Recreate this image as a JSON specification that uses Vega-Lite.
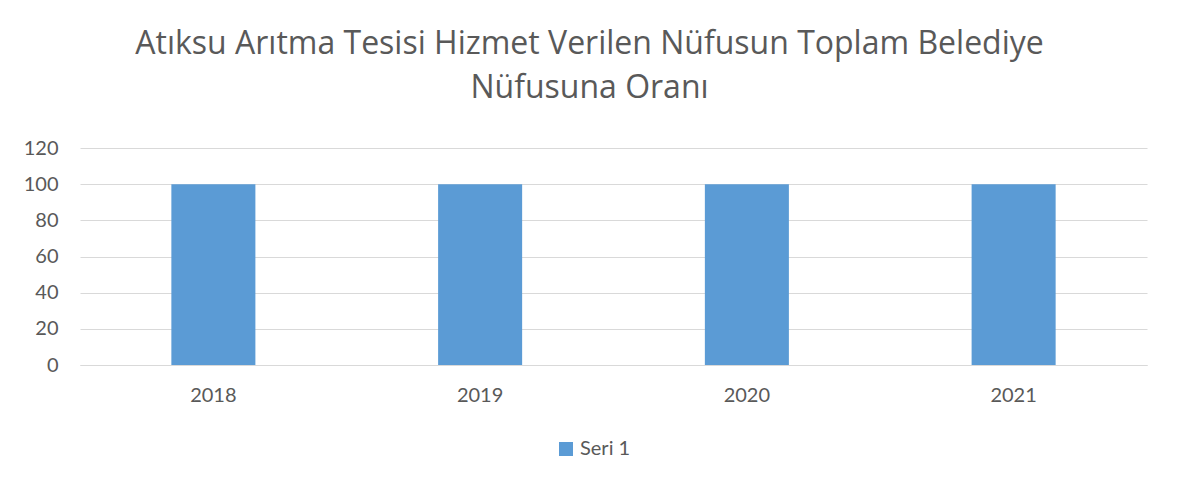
{
  "$schema": "https://vega.github.io/schema/vega-lite/v6.json",
  "autosize": {"type": "none"},
  "width": 1067,
  "height": 217,
  "padding": {"left": 80, "top": 148, "right": 33, "bottom": 123},
  "background": "#ffffff",
  "data": {"values": [
    {"year": "2018", "value": 100, "series": "Seri 1"},
    {"year": "2019", "value": 100, "series": "Seri 1"},
    {"year": "2020", "value": 100, "series": "Seri 1"},
    {"year": "2021", "value": 100, "series": "Seri 1"}
  ]},
  "title": {
    "text": ["Atıksu Arıtma Tesisi Hizmet Verilen Nüfusun Toplam Belediye", "Nüfusuna Oranı"],
    "font": "Open Sans",
    "fontSize": 32,
    "fontWeight": "normal",
    "color": "#595959",
    "anchor": "middle",
    "lineHeight": 44,
    "dx": -24,
    "offset": 33
  },
  "mark": {"type": "bar", "color": "#5b9bd5"},
  "encoding": {
    "x": {
      "field": "year", "type": "nominal",
      "scale": {"paddingInner": 0.685, "paddingOuter": 0.3425},
      "axis": {"title": null, "labelAngle": 0, "ticks": false, "domain": true, "domainColor": "#d9d9d9", "labelFont": "Lato", "labelFontSize": 20, "labelColor": "#595959", "labelPadding": 20}
    },
    "y": {
      "field": "value", "type": "quantitative",
      "scale": {"domain": [0, 120]},
      "axis": {"title": null, "values": [0, 20, 40, 60, 80, 100, 120], "ticks": false, "domain": false, "gridColor": "#d9d9d9", "labelFont": "Lato", "labelFontSize": 20, "labelColor": "#595959", "labelPadding": 22}
    },
    "color": {
      "field": "series", "type": "nominal",
      "scale": {"range": ["#5b9bd5"]},
      "legend": {"title": null, "orient": "none", "legendX": 476, "legendY": 291, "symbolType": "square", "symbolSize": 196, "symbolStrokeWidth": 0, "labelFont": "Lato", "labelFontSize": 20, "labelColor": "#595959", "labelOffset": 4}
    }
  },
  "config": {"view": {"stroke": null}}
}
